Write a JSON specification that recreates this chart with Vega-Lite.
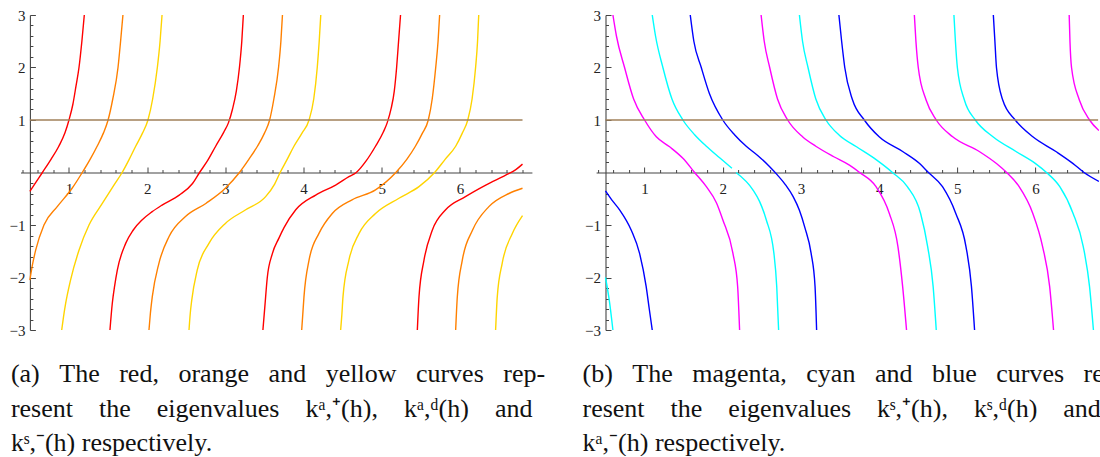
{
  "$schema": "https://vega.github.io/schema/vega-lite/v6.json",
  "background": "white",
  "padding": {"left": 8.5, "top": 8, "right": 0, "bottom": 0},
  "config": {
    "view": {"stroke": null},
    "axis": {"grid": false, "domainColor": "#444", "tickColor": "#444", "labelColor": "#222", "labelFont": "Liberation Serif", "labelFontSize": 15, "title": null, "domainWidth": 1.1, "tickWidth": 1}
  },
  "resolve": {"scale": {"color": "independent"}},
  "datasets": {
    "a": [
      {"curve":"red","seg":"r1","x":0.5,"y":-0.36},{"curve":"red","seg":"r1","x":0.58,"y":-0.18},{"curve":"red","seg":"r1","x":0.66,"y":0},{"curve":"red","seg":"r1","x":0.77,"y":0.25},{"curve":"red","seg":"r1","x":0.87,"y":0.5},{"curve":"red","seg":"r1","x":0.95,"y":0.76},{"curve":"red","seg":"r1","x":1.0,"y":1.0},{"curve":"red","seg":"r1","x":1.05,"y":1.3},{"curve":"red","seg":"r1","x":1.09,"y":1.65},{"curve":"red","seg":"r1","x":1.128,"y":2.0},{"curve":"red","seg":"r1","x":1.165,"y":2.5},{"curve":"red","seg":"r1","x":1.196,"y":3},
      {"curve":"red","seg":"r2","x":1.524,"y":-3},{"curve":"red","seg":"r2","x":1.554,"y":-2.49},{"curve":"red","seg":"r2","x":1.585,"y":-2.15},{"curve":"red","seg":"r2","x":1.618,"y":-1.86},{"curve":"red","seg":"r2","x":1.725,"y":-1.35},{"curve":"red","seg":"r2","x":1.82,"y":-1.1},{"curve":"red","seg":"r2","x":1.937,"y":-0.9},{"curve":"red","seg":"r2","x":2.06,"y":-0.75},{"curve":"red","seg":"r2","x":2.19,"y":-0.62},{"curve":"red","seg":"r2","x":2.41,"y":-0.43},{"curve":"red","seg":"r2","x":2.58,"y":-0.21},{"curve":"red","seg":"r2","x":2.67,"y":0},{"curve":"red","seg":"r2","x":2.77,"y":0.22},{"curve":"red","seg":"r2","x":2.876,"y":0.5},{"curve":"red","seg":"r2","x":2.98,"y":0.77},{"curve":"red","seg":"r2","x":3.04,"y":0.95},{"curve":"red","seg":"r2","x":3.09,"y":1.2},{"curve":"red","seg":"r2","x":3.14,"y":1.55},{"curve":"red","seg":"r2","x":3.18,"y":2.0},{"curve":"red","seg":"r2","x":3.21,"y":2.5},{"curve":"red","seg":"r2","x":3.23,"y":3},
      {"curve":"red","seg":"r3","x":3.48,"y":-3},{"curve":"red","seg":"r3","x":3.505,"y":-2.55},{"curve":"red","seg":"r3","x":3.536,"y":-2.0},{"curve":"red","seg":"r3","x":3.6,"y":-1.55},{"curve":"red","seg":"r3","x":3.685,"y":-1.25},{"curve":"red","seg":"r3","x":3.75,"y":-1.05},{"curve":"red","seg":"r3","x":3.9,"y":-0.71},{"curve":"red","seg":"r3","x":4.155,"y":-0.43},{"curve":"red","seg":"r3","x":4.41,"y":-0.24},{"curve":"red","seg":"r3","x":4.58,"y":-0.08},{"curve":"red","seg":"r3","x":4.674,"y":0},{"curve":"red","seg":"r3","x":4.8,"y":0.22},{"curve":"red","seg":"r3","x":4.92,"y":0.5},{"curve":"red","seg":"r3","x":5.02,"y":0.77},{"curve":"red","seg":"r3","x":5.07,"y":0.95},{"curve":"red","seg":"r3","x":5.12,"y":1.22},{"curve":"red","seg":"r3","x":5.16,"y":1.55},{"curve":"red","seg":"r3","x":5.19,"y":2.0},{"curve":"red","seg":"r3","x":5.215,"y":2.5},{"curve":"red","seg":"r3","x":5.24,"y":3},
      {"curve":"red","seg":"r4","x":5.455,"y":-3},{"curve":"red","seg":"r4","x":5.476,"y":-2.37},{"curve":"red","seg":"r4","x":5.54,"y":-1.67},{"curve":"red","seg":"r4","x":5.646,"y":-1.1},{"curve":"red","seg":"r4","x":5.817,"y":-0.71},{"curve":"red","seg":"r4","x":6.07,"y":-0.46},{"curve":"red","seg":"r4","x":6.33,"y":-0.24},{"curve":"red","seg":"r4","x":6.585,"y":-0.05},{"curve":"red","seg":"r4","x":6.71,"y":0.05},{"curve":"red","seg":"r4","x":6.8,"y":0.16},
      {"curve":"orange","seg":"o1","x":0.5,"y":-2.05},{"curve":"orange","seg":"o1","x":0.53,"y":-1.78},{"curve":"orange","seg":"o1","x":0.574,"y":-1.48},{"curve":"orange","seg":"o1","x":0.68,"y":-1.0},{"curve":"orange","seg":"o1","x":0.85,"y":-0.65},{"curve":"orange","seg":"o1","x":1.04,"y":-0.3},{"curve":"orange","seg":"o1","x":1.17,"y":0},{"curve":"orange","seg":"o1","x":1.27,"y":0.25},{"curve":"orange","seg":"o1","x":1.36,"y":0.5},{"curve":"orange","seg":"o1","x":1.44,"y":0.75},{"curve":"orange","seg":"o1","x":1.5,"y":1.0},{"curve":"orange","seg":"o1","x":1.56,"y":1.4},{"curve":"orange","seg":"o1","x":1.627,"y":2.0},{"curve":"orange","seg":"o1","x":1.66,"y":2.5},{"curve":"orange","seg":"o1","x":1.69,"y":3},
      {"curve":"orange","seg":"o2","x":2.023,"y":-3},{"curve":"orange","seg":"o2","x":2.04,"y":-2.7},{"curve":"orange","seg":"o2","x":2.065,"y":-2.37},{"curve":"orange","seg":"o2","x":2.15,"y":-1.73},{"curve":"orange","seg":"o2","x":2.28,"y":-1.22},{"curve":"orange","seg":"o2","x":2.49,"y":-0.84},{"curve":"orange","seg":"o2","x":2.75,"y":-0.59},{"curve":"orange","seg":"o2","x":3.0,"y":-0.3},{"curve":"orange","seg":"o2","x":3.18,"y":0},{"curve":"orange","seg":"o2","x":3.3,"y":0.25},{"curve":"orange","seg":"o2","x":3.41,"y":0.5},{"curve":"orange","seg":"o2","x":3.5,"y":0.75},{"curve":"orange","seg":"o2","x":3.566,"y":1.0},{"curve":"orange","seg":"o2","x":3.62,"y":1.4},{"curve":"orange","seg":"o2","x":3.68,"y":2.0},{"curve":"orange","seg":"o2","x":3.71,"y":2.5},{"curve":"orange","seg":"o2","x":3.73,"y":3},
      {"curve":"orange","seg":"o3","x":3.976,"y":-3},{"curve":"orange","seg":"o3","x":3.99,"y":-2.7},{"curve":"orange","seg":"o3","x":4.005,"y":-2.37},{"curve":"orange","seg":"o3","x":4.07,"y":-1.67},{"curve":"orange","seg":"o3","x":4.197,"y":-1.16},{"curve":"orange","seg":"o3","x":4.367,"y":-0.78},{"curve":"orange","seg":"o3","x":4.62,"y":-0.52},{"curve":"orange","seg":"o3","x":4.92,"y":-0.33},{"curve":"orange","seg":"o3","x":5.18,"y":0},{"curve":"orange","seg":"o3","x":5.32,"y":0.25},{"curve":"orange","seg":"o3","x":5.43,"y":0.5},{"curve":"orange","seg":"o3","x":5.52,"y":0.75},{"curve":"orange","seg":"o3","x":5.595,"y":1.0},{"curve":"orange","seg":"o3","x":5.645,"y":1.4},{"curve":"orange","seg":"o3","x":5.69,"y":2.0},{"curve":"orange","seg":"o3","x":5.72,"y":2.5},{"curve":"orange","seg":"o3","x":5.74,"y":3},
      {"curve":"orange","seg":"o4","x":5.945,"y":-3},{"curve":"orange","seg":"o4","x":5.966,"y":-2.37},{"curve":"orange","seg":"o4","x":6.03,"y":-1.67},{"curve":"orange","seg":"o4","x":6.16,"y":-1.1},{"curve":"orange","seg":"o4","x":6.37,"y":-0.65},{"curve":"orange","seg":"o4","x":6.627,"y":-0.4},{"curve":"orange","seg":"o4","x":6.8,"y":-0.3},
      {"curve":"yellow","seg":"y1","x":0.907,"y":-3},{"curve":"yellow","seg":"y1","x":0.93,"y":-2.75},{"curve":"yellow","seg":"y1","x":0.958,"y":-2.49},{"curve":"yellow","seg":"y1","x":1.02,"y":-2.05},{"curve":"yellow","seg":"y1","x":1.128,"y":-1.48},{"curve":"yellow","seg":"y1","x":1.256,"y":-1.0},{"curve":"yellow","seg":"y1","x":1.426,"y":-0.59},{"curve":"yellow","seg":"y1","x":1.575,"y":-0.24},{"curve":"yellow","seg":"y1","x":1.68,"y":0},{"curve":"yellow","seg":"y1","x":1.77,"y":0.25},{"curve":"yellow","seg":"y1","x":1.853,"y":0.5},{"curve":"yellow","seg":"y1","x":1.94,"y":0.75},{"curve":"yellow","seg":"y1","x":2.01,"y":1.0},{"curve":"yellow","seg":"y1","x":2.07,"y":1.4},{"curve":"yellow","seg":"y1","x":2.13,"y":2.0},{"curve":"yellow","seg":"y1","x":2.165,"y":2.5},{"curve":"yellow","seg":"y1","x":2.19,"y":3},
      {"curve":"yellow","seg":"y2","x":2.535,"y":-3},{"curve":"yellow","seg":"y2","x":2.55,"y":-2.7},{"curve":"yellow","seg":"y2","x":2.57,"y":-2.43},{"curve":"yellow","seg":"y2","x":2.64,"y":-1.86},{"curve":"yellow","seg":"y2","x":2.79,"y":-1.35},{"curve":"yellow","seg":"y2","x":3.0,"y":-0.97},{"curve":"yellow","seg":"y2","x":3.26,"y":-0.71},{"curve":"yellow","seg":"y2","x":3.515,"y":-0.46},{"curve":"yellow","seg":"y2","x":3.63,"y":-0.22},{"curve":"yellow","seg":"y2","x":3.7,"y":0},{"curve":"yellow","seg":"y2","x":3.79,"y":0.25},{"curve":"yellow","seg":"y2","x":3.877,"y":0.5},{"curve":"yellow","seg":"y2","x":3.98,"y":0.75},{"curve":"yellow","seg":"y2","x":4.07,"y":1.0},{"curve":"yellow","seg":"y2","x":4.13,"y":1.4},{"curve":"yellow","seg":"y2","x":4.175,"y":2.0},{"curve":"yellow","seg":"y2","x":4.2,"y":2.5},{"curve":"yellow","seg":"y2","x":4.22,"y":3},
      {"curve":"yellow","seg":"y3","x":4.474,"y":-3},{"curve":"yellow","seg":"y3","x":4.49,"y":-2.7},{"curve":"yellow","seg":"y3","x":4.504,"y":-2.37},{"curve":"yellow","seg":"y3","x":4.58,"y":-1.67},{"curve":"yellow","seg":"y3","x":4.71,"y":-1.16},{"curve":"yellow","seg":"y3","x":4.92,"y":-0.78},{"curve":"yellow","seg":"y3","x":5.22,"y":-0.49},{"curve":"yellow","seg":"y3","x":5.476,"y":-0.27},{"curve":"yellow","seg":"y3","x":5.676,"y":0},{"curve":"yellow","seg":"y3","x":5.81,"y":0.25},{"curve":"yellow","seg":"y3","x":5.945,"y":0.5},{"curve":"yellow","seg":"y3","x":6.03,"y":0.75},{"curve":"yellow","seg":"y3","x":6.1,"y":1.0},{"curve":"yellow","seg":"y3","x":6.155,"y":1.4},{"curve":"yellow","seg":"y3","x":6.2,"y":2.0},{"curve":"yellow","seg":"y3","x":6.225,"y":2.5},{"curve":"yellow","seg":"y3","x":6.24,"y":3},
      {"curve":"yellow","seg":"y4","x":6.456,"y":-3},{"curve":"yellow","seg":"y4","x":6.477,"y":-2.37},{"curve":"yellow","seg":"y4","x":6.54,"y":-1.73},{"curve":"yellow","seg":"y4","x":6.67,"y":-1.16},{"curve":"yellow","seg":"y4","x":6.8,"y":-0.82}
    ],
    "b": [
      {"curve":"magenta","seg":"m1","x":0.595,"y":3},{"curve":"magenta","seg":"m1","x":0.64,"y":2.6},{"curve":"magenta","seg":"m1","x":0.744,"y":2.0},{"curve":"magenta","seg":"m1","x":0.86,"y":1.4},{"curve":"magenta","seg":"m1","x":1.0,"y":1.0},{"curve":"magenta","seg":"m1","x":1.15,"y":0.68},{"curve":"magenta","seg":"m1","x":1.32,"y":0.49},{"curve":"magenta","seg":"m1","x":1.49,"y":0.27},{"curve":"magenta","seg":"m1","x":1.64,"y":0},{"curve":"magenta","seg":"m1","x":1.79,"y":-0.27},{"curve":"magenta","seg":"m1","x":1.92,"y":-0.58},{"curve":"magenta","seg":"m1","x":2.0,"y":-0.9},{"curve":"magenta","seg":"m1","x":2.13,"y":-1.54},{"curve":"magenta","seg":"m1","x":2.19,"y":-2.17},{"curve":"magenta","seg":"m1","x":2.215,"y":-3},
      {"curve":"magenta","seg":"m2","x":2.49,"y":3},{"curve":"magenta","seg":"m2","x":2.53,"y":2.5},{"curve":"magenta","seg":"m2","x":2.6,"y":2.0},{"curve":"magenta","seg":"m2","x":2.7,"y":1.4},{"curve":"magenta","seg":"m2","x":2.83,"y":1.0},{"curve":"magenta","seg":"m2","x":3.02,"y":0.68},{"curve":"magenta","seg":"m2","x":3.19,"y":0.5},{"curve":"magenta","seg":"m2","x":3.42,"y":0.3},{"curve":"magenta","seg":"m2","x":3.62,"y":0.14},{"curve":"magenta","seg":"m2","x":3.75,"y":0},{"curve":"magenta","seg":"m2","x":3.96,"y":-0.27},{"curve":"magenta","seg":"m2","x":4.13,"y":-0.78},{"curve":"magenta","seg":"m2","x":4.24,"y":-1.41},{"curve":"magenta","seg":"m2","x":4.3,"y":-2.17},{"curve":"magenta","seg":"m2","x":4.35,"y":-3},
      {"curve":"magenta","seg":"m3","x":4.45,"y":3},{"curve":"magenta","seg":"m3","x":4.47,"y":2.5},{"curve":"magenta","seg":"m3","x":4.5,"y":2.0},{"curve":"magenta","seg":"m3","x":4.6,"y":1.38},{"curve":"magenta","seg":"m3","x":4.73,"y":1.0},{"curve":"magenta","seg":"m3","x":4.94,"y":0.68},{"curve":"magenta","seg":"m3","x":5.28,"y":0.4},{"curve":"magenta","seg":"m3","x":5.5,"y":0.17},{"curve":"magenta","seg":"m3","x":5.63,"y":0},{"curve":"magenta","seg":"m3","x":5.79,"y":-0.27},{"curve":"magenta","seg":"m3","x":5.965,"y":-0.78},{"curve":"magenta","seg":"m3","x":6.09,"y":-1.41},{"curve":"magenta","seg":"m3","x":6.18,"y":-2.17},{"curve":"magenta","seg":"m3","x":6.23,"y":-3},
      {"curve":"magenta","seg":"m4","x":6.43,"y":3},{"curve":"magenta","seg":"m4","x":6.44,"y":2.5},{"curve":"magenta","seg":"m4","x":6.46,"y":2.0},{"curve":"magenta","seg":"m4","x":6.56,"y":1.38},{"curve":"magenta","seg":"m4","x":6.69,"y":1.0},{"curve":"magenta","seg":"m4","x":6.81,"y":0.8},
      {"curve":"cyan","seg":"c0","x":0.5,"y":-2.0},{"curve":"cyan","seg":"c0","x":0.55,"y":-2.45},{"curve":"cyan","seg":"c0","x":0.595,"y":-3},
      {"curve":"cyan","seg":"c1a","x":1.098,"y":3},{"curve":"cyan","seg":"c1a","x":1.14,"y":2.6},{"curve":"cyan","seg":"c1a","x":1.234,"y":2.0},{"curve":"cyan","seg":"c1a","x":1.35,"y":1.4},{"curve":"cyan","seg":"c1a","x":1.49,"y":1.0},{"curve":"cyan","seg":"c1a","x":1.64,"y":0.72},{"curve":"cyan","seg":"c1a","x":1.79,"y":0.5},{"curve":"cyan","seg":"c1a","x":1.96,"y":0.28},{"curve":"cyan","seg":"c1a","x":2.117,"y":0.08},
      {"curve":"cyan","seg":"c1b","x":2.17,"y":0},{"curve":"cyan","seg":"c1b","x":2.385,"y":-0.33},{"curve":"cyan","seg":"c1b","x":2.47,"y":-0.55},{"curve":"cyan","seg":"c1b","x":2.556,"y":-0.9},{"curve":"cyan","seg":"c1b","x":2.654,"y":-1.54},{"curve":"cyan","seg":"c1b","x":2.69,"y":-2.17},{"curve":"cyan","seg":"c1b","x":2.714,"y":-3},
      {"curve":"cyan","seg":"c2","x":2.98,"y":3},{"curve":"cyan","seg":"c2","x":3.02,"y":2.5},{"curve":"cyan","seg":"c2","x":3.09,"y":2.0},{"curve":"cyan","seg":"c2","x":3.19,"y":1.4},{"curve":"cyan","seg":"c2","x":3.32,"y":1.0},{"curve":"cyan","seg":"c2","x":3.49,"y":0.71},{"curve":"cyan","seg":"c2","x":3.71,"y":0.49},{"curve":"cyan","seg":"c2","x":3.965,"y":0.24},{"curve":"cyan","seg":"c2","x":4.17,"y":0},{"curve":"cyan","seg":"c2","x":4.36,"y":-0.27},{"curve":"cyan","seg":"c2","x":4.53,"y":-0.78},{"curve":"cyan","seg":"c2","x":4.62,"y":-1.41},{"curve":"cyan","seg":"c2","x":4.69,"y":-2.17},{"curve":"cyan","seg":"c2","x":4.73,"y":-3},
      {"curve":"cyan","seg":"c3","x":4.956,"y":3},{"curve":"cyan","seg":"c3","x":4.975,"y":2.5},{"curve":"cyan","seg":"c3","x":5.0,"y":2.0},{"curve":"cyan","seg":"c3","x":5.09,"y":1.38},{"curve":"cyan","seg":"c3","x":5.23,"y":1.0},{"curve":"cyan","seg":"c3","x":5.455,"y":0.68},{"curve":"cyan","seg":"c3","x":5.75,"y":0.4},{"curve":"cyan","seg":"c3","x":6.0,"y":0.17},{"curve":"cyan","seg":"c3","x":6.14,"y":0},{"curve":"cyan","seg":"c3","x":6.31,"y":-0.27},{"curve":"cyan","seg":"c3","x":6.48,"y":-0.78},{"curve":"cyan","seg":"c3","x":6.61,"y":-1.41},{"curve":"cyan","seg":"c3","x":6.69,"y":-2.17},{"curve":"cyan","seg":"c3","x":6.74,"y":-3},
      {"curve":"blue","seg":"b1","x":0.5,"y":-0.35},{"curve":"blue","seg":"b1","x":0.58,"y":-0.52},{"curve":"blue","seg":"b1","x":0.68,"y":-0.71},{"curve":"blue","seg":"b1","x":0.83,"y":-1.1},{"curve":"blue","seg":"b1","x":0.936,"y":-1.54},{"curve":"blue","seg":"b1","x":1.02,"y":-2.17},{"curve":"blue","seg":"b1","x":1.06,"y":-2.6},{"curve":"blue","seg":"b1","x":1.098,"y":-3},
      {"curve":"blue","seg":"b2","x":1.584,"y":3},{"curve":"blue","seg":"b2","x":1.63,"y":2.5},{"curve":"blue","seg":"b2","x":1.725,"y":2.0},{"curve":"blue","seg":"b2","x":1.83,"y":1.5},{"curve":"blue","seg":"b2","x":2.0,"y":1.0},{"curve":"blue","seg":"b2","x":2.15,"y":0.72},{"curve":"blue","seg":"b2","x":2.3,"y":0.5},{"curve":"blue","seg":"b2","x":2.45,"y":0.32},{"curve":"blue","seg":"b2","x":2.6,"y":0.11},{"curve":"blue","seg":"b2","x":2.7,"y":-0.05},{"curve":"blue","seg":"b2","x":2.8,"y":-0.23},{"curve":"blue","seg":"b2","x":2.9,"y":-0.46},{"curve":"blue","seg":"b2","x":2.98,"y":-0.72},{"curve":"blue","seg":"b2","x":3.05,"y":-1.05},{"curve":"blue","seg":"b2","x":3.13,"y":-1.54},{"curve":"blue","seg":"b2","x":3.18,"y":-2.17},{"curve":"blue","seg":"b2","x":3.2,"y":-3},
      {"curve":"blue","seg":"b3","x":3.485,"y":3},{"curve":"blue","seg":"b3","x":3.52,"y":2.5},{"curve":"blue","seg":"b3","x":3.56,"y":2.0},{"curve":"blue","seg":"b3","x":3.66,"y":1.38},{"curve":"blue","seg":"b3","x":3.81,"y":1.0},{"curve":"blue","seg":"b3","x":4.0,"y":0.68},{"curve":"blue","seg":"b3","x":4.3,"y":0.4},{"curve":"blue","seg":"b3","x":4.517,"y":0.17},{"curve":"blue","seg":"b3","x":4.63,"y":0},{"curve":"blue","seg":"b3","x":4.81,"y":-0.27},{"curve":"blue","seg":"b3","x":4.98,"y":-0.78},{"curve":"blue","seg":"b3","x":5.11,"y":-1.41},{"curve":"blue","seg":"b3","x":5.18,"y":-2.17},{"curve":"blue","seg":"b3","x":5.22,"y":-3},
      {"curve":"blue","seg":"b4","x":5.46,"y":3},{"curve":"blue","seg":"b4","x":5.48,"y":2.5},{"curve":"blue","seg":"b4","x":5.5,"y":2.0},{"curve":"blue","seg":"b4","x":5.58,"y":1.38},{"curve":"blue","seg":"b4","x":5.74,"y":1.0},{"curve":"blue","seg":"b4","x":5.965,"y":0.68},{"curve":"blue","seg":"b4","x":6.26,"y":0.4},{"curve":"blue","seg":"b4","x":6.48,"y":0.17},{"curve":"blue","seg":"b4","x":6.62,"y":0},{"curve":"blue","seg":"b4","x":6.81,"y":-0.17}
    ],
    "h": [{"x1": 0.5, "x2": 6.8, "y": 1}]
  },
  "spacing": 63.6,
  "bounds": "flush",
  "hconcat": [
    {
      "width": 511.4,
      "height": 315,
      "title": {
        "text": ["(a) \u2002The \u2002red, \u2002orange \u2002and \u2002yellow \u2002curves \u2002rep-", "resent\u2002\u2002the\u2002\u2002eigenvalues\u2002\u2002k\u1d43,\u207a(h),\u2002\u2002k\u1d43,\u1d48(h)\u2002\u2002and", "k\u02e2,\u207b(h) respectively."],
        "orient": "bottom", "anchor": "start", "frame": "group", "baseline": "alphabetic",
        "font": "Liberation Serif", "fontSize": 26, "fontWeight": "normal", "color": "#111",
        "lineHeight": 34.5, "offset": 44, "dx": -9.6
      },
      "layer": [
        {
          "data": {"name": "a"},
          "mark": {"type": "line", "interpolate": "monotone", "strokeWidth": 1.4, "clip": true},
          "encoding": {
            "x": {"field": "x", "type": "quantitative", "scale": {"domain": [0.38, 6.92], "nice": false, "zero": false},
              "axis": {"orient": "bottom", "offset": -157.5, "values": [1, 2, 3, 4, 5, 6], "tickSize": -5.5, "labelPadding": 14, "labelBaseline": "top", "labelFlush": false, "labelOverlap": false}},
            "y": {"field": "y", "type": "quantitative", "scale": {"domain": [-3, 3], "nice": false, "zero": false},
              "axis": {"orient": "left", "offset": -9.4, "values": [-3, -2, -1, 1, 2, 3], "tickSize": -5.5, "labelPadding": 10.5, "labelFlush": false, "labelOverlap": false}},
            "color": {"field": "curve", "type": "nominal", "scale": {"domain": ["red", "orange", "yellow"], "range": ["#ff0000", "#ff8000", "#ffd400"]}, "legend": null},
            "detail": {"field": "seg"}
          }
        },
        {
          "data": {"name": "h"},
          "mark": {"type": "rule", "color": "#a0805a", "strokeWidth": 1.6},
          "encoding": {
            "x": {"field": "x1", "type": "quantitative",
              "axis": {"orient": "bottom", "offset": -157.5, "values": [0.4, 0.6, 0.8, 1.2, 1.4, 1.6, 1.8, 2.2, 2.4, 2.6, 2.8, 3.2, 3.4, 3.6, 3.8, 4.2, 4.4, 4.6, 4.8, 5.2, 5.4, 5.6, 5.8, 6.2, 6.4, 6.6, 6.8], "tickSize": -3, "labels": false, "domain": false}},
            "x2": {"field": "x2"},
            "y": {"field": "y", "type": "quantitative",
              "axis": {"orient": "left", "offset": -9.4, "values": [-2.8, -2.6, -2.4, -2.2, -1.8, -1.6, -1.4, -1.2, -0.8, -0.6, -0.4, -0.2, 0.2, 0.4, 0.6, 0.8, 1.2, 1.4, 1.6, 1.8, 2.2, 2.4, 2.6, 2.8], "tickSize": -3, "labels": false, "domain": false}}
          }
        }
      ],
      "resolve": {"axis": {"x": "independent", "y": "independent"}}
    },
    {
      "width": 502.8,
      "height": 315,
      "title": {
        "text": ["(b) \u2002The \u2002magenta, \u2002cyan \u2002and \u2002blue \u2002curves \u2002rep-", "resent\u2002\u2002the\u2002\u2002eigenvalues\u2002\u2002k\u02e2,\u207a(h),\u2002\u2002k\u02e2,\u1d48(h)\u2002\u2002and", "k\u1d43,\u207b(h) respectively."],
        "orient": "bottom", "anchor": "start", "frame": "group", "baseline": "alphabetic",
        "font": "Liberation Serif", "fontSize": 26, "fontWeight": "normal", "color": "#111",
        "lineHeight": 34.5, "offset": 44, "dx": -13.6
      },
      "layer": [
        {
          "data": {"name": "b"},
          "mark": {"type": "line", "interpolate": "monotone", "strokeWidth": 1.4, "clip": true},
          "encoding": {
            "x": {"field": "x", "type": "quantitative", "scale": {"domain": [0.38, 6.81], "nice": false, "zero": false},
              "axis": {"orient": "bottom", "offset": -157.5, "values": [1, 2, 3, 4, 5, 6], "tickSize": -5.5, "labelPadding": 14, "labelBaseline": "top", "labelFlush": false, "labelOverlap": false}},
            "y": {"field": "y", "type": "quantitative", "scale": {"domain": [-3, 3], "nice": false, "zero": false},
              "axis": {"orient": "left", "offset": -9.4, "values": [-3, -2, -1, 1, 2, 3], "tickSize": -5.5, "labelPadding": 10.5, "labelFlush": false, "labelOverlap": false}},
            "color": {"field": "curve", "type": "nominal", "scale": {"domain": ["magenta", "cyan", "blue"], "range": ["#ff00ff", "#00ffff", "#0000ff"]}, "legend": null},
            "detail": {"field": "seg"}
          }
        },
        {
          "data": {"name": "h"},
          "mark": {"type": "rule", "color": "#a0805a", "strokeWidth": 1.6},
          "encoding": {
            "x": {"field": "x1", "type": "quantitative",
              "axis": {"orient": "bottom", "offset": -157.5, "values": [0.4, 0.6, 0.8, 1.2, 1.4, 1.6, 1.8, 2.2, 2.4, 2.6, 2.8, 3.2, 3.4, 3.6, 3.8, 4.2, 4.4, 4.6, 4.8, 5.2, 5.4, 5.6, 5.8, 6.2, 6.4, 6.6, 6.8], "tickSize": -3, "labels": false, "domain": false}},
            "x2": {"field": "x2"},
            "y": {"field": "y", "type": "quantitative",
              "axis": {"orient": "left", "offset": -9.4, "values": [-2.8, -2.6, -2.4, -2.2, -1.8, -1.6, -1.4, -1.2, -0.8, -0.6, -0.4, -0.2, 0.2, 0.4, 0.6, 0.8, 1.2, 1.4, 1.6, 1.8, 2.2, 2.4, 2.6, 2.8], "tickSize": -3, "labels": false, "domain": false}}
          }
        }
      ],
      "resolve": {"axis": {"x": "independent", "y": "independent"}}
    }
  ]
}
